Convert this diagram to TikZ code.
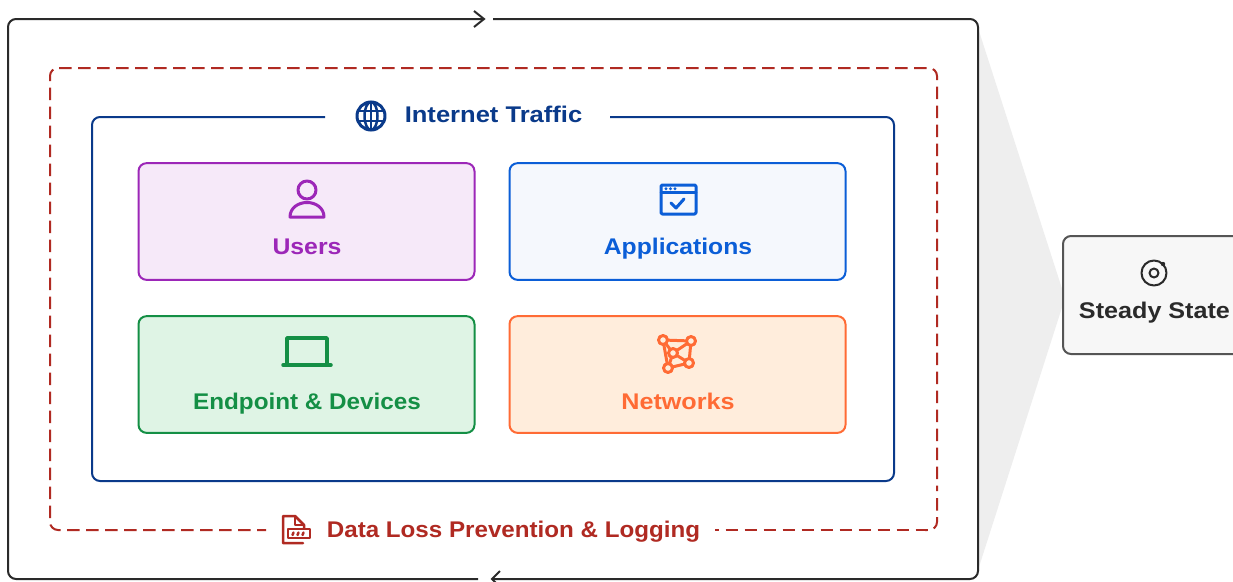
\documentclass[tikz,border=0pt]{standalone}
\usepackage{fontspec}
\setmainfont{Liberation Sans}
\newcommand{\wdt}[2]{{\addfontfeature{FakeStretch=#1}#2}}
\definecolor{cpurple}{HTML}{9C27B8}\definecolor{fpurple}{HTML}{F6E9F9}
\definecolor{cblue}{HTML}{0B5ED7}\definecolor{fblue}{HTML}{F5F8FD}
\definecolor{cgreen}{HTML}{148F45}\definecolor{fgreen}{HTML}{DFF4E5}
\definecolor{corange}{HTML}{FF6B35}\definecolor{forange}{HTML}{FFEDDC}
\definecolor{cnavy}{HTML}{0A3A8A}\definecolor{cred}{HTML}{B02A22}
\definecolor{cdark}{HTML}{2A2A2A}\definecolor{cedge}{HTML}{555555}
\definecolor{fsteady}{HTML}{F7F7F7}\definecolor{ffunnel}{HTML}{EEEEEE}
\tikzset{
 x=0.75pt,y=-0.75pt,
 px/.style={line width=#1*0.75pt},
 card/.style n args={2}{draw=#1,fill=#2,px=2,rounded corners=6pt,minimum width=252pt,minimum height=87.5pt,inner sep=0pt},
 cardlabel/.style={font=\fontsize{17}{20}\selectfont\bfseries,text=#1,inner sep=0pt,anchor=base},
 ico/.style={draw=#1,px=3,line join=round,line cap=round},
 frame/.style={draw=cdark,px=2,rounded corners=6pt},
 chev/.style={draw=cdark,px=2,line join=miter},
 redash/.style={draw=cred,px=2,rounded corners=6pt,dash pattern=on 9.375pt off 4.875pt,dash phase=#1},
}
\begin{document}
\begin{tikzpicture}
\clip (0,0) rectangle (1233,582);
\fill[white] (0,0) rectangle (1233,582);
% funnel
\fill[ffunnel] (978,28) -- (1065,298) -- (978,570) -- cycle;
% outer frame
\coordinate (ftl) at (493,19); \coordinate (ftr) at (484,19);
\coordinate (fbl) at (478,579); \coordinate (fbr) at (492,579);
\draw[frame] (ftl) -- (978,19) -- (978,579) -- (fbr);
\draw[frame] (fbl) -- (8,579) -- (8,19) -- (ftr);
\draw[chev] (474,11) -- (ftr) -- (474,27);
\draw[chev] (500,571) -- (fbr) -- (500,587);
% dashed frame
\coordinate (dl) at (266,530); \coordinate (dr) at (715,530);
\draw[redash=0pt] (59,68) -- (937,68) -- (937,491);
\draw[redash=0pt] (937,498) -- (937,530) -- (925,530);
\draw[redash=6.375pt] (dr) -- (929,530);
\draw[redash=10.5pt] (58,68) -- (50,68) -- (50,530) -- (dl);
% blue frame
\coordinate (bl) at (325,117); \coordinate (br) at (610,117);
\draw[draw=cnavy,px=2,rounded corners=6pt] (bl) -- (92,117) -- (92,481) -- (894,481) -- (894,117) -- (br);
% cards
\node[card={cpurple}{fpurple}] (users) at (306.5,221.5) {};
\node[card={cblue}{fblue}] (apps) at (677.5,221.5) {};
\node[card={cgreen}{fgreen}] (endpoint) at (306.5,374.5) {};
\node[card={corange}{forange}] (networks) at (677.5,374.5) {};
\node[cardlabel=cpurple] (usersl) at (307,254) {\wdt{1.095}{Users}};
\node[cardlabel=cblue] (appsl) at (678,254) {\wdt{1.09}{Applications}};
\node[cardlabel=cgreen] (endpointl) at (307,409) {\wdt{1.07}{Endpoint \& Devices}};
\node[cardlabel=corange] (networksl) at (678,409) {\wdt{1.11}{Networks}};
\node[cardlabel=cnavy] (internet) at (493.5,122) {\wdt{1.127}{Internet Traffic}};
\node[cardlabel=cred] (dlp) at (513.5,537) {\wdt{1.066}{Data Loss Prevention \& Logging}};
% steady
\node[draw=cedge,fill=fsteady,px=2,rounded corners=6pt,minimum width=150pt,minimum height=88.5pt,inner sep=0pt,anchor=north west] (steady) at (1062,235) {};
\node[cardlabel=cdark] (steadyl) at (1154.5,318) {\wdt{1.11}{Steady State}};
% user icon
\draw[ico=cpurple] (307,190) circle (9);
\draw[ico=cpurple] (290,217) .. controls (290,208) and (298,202.5) .. (307,202.5) .. controls (316,202.5) and (324,208) .. (324,217) -- cycle;
% app icon
\draw[ico=cblue,rounded corners=1pt] (661,185) rectangle (696,214);
\draw[ico=cblue,px=2.5] (661,192.5) -- (696,192.5);
\foreach \x in {666,670.5,675}\fill[cblue] (\x,188.8) circle (1.6);
\draw[ico=cblue] (671,203) -- (676,208) -- (684,199);
% laptop
\draw[ico=cgreen,px=3.5,line cap=butt] (287,364) -- (287,338) -- (327,338) -- (327,364);
\draw[ico=cgreen,px=3.5] (283,365) -- (331,365);
% network
\draw[ico=corange] (663,340) -- (691,341) -- (689,363) -- (668,368) -- cycle;
\draw[ico=corange] (663,340) -- (673,353) -- (691,341);
\draw[ico=corange] (673,353) -- (689,363);
\draw[ico=corange] (673,353) -- (668,368);
\foreach \x/\y in {663/340,691/341,673/353,689/363,668/368}\draw[ico=corange,fill=forange] (\x,\y) circle (4.5);
% globe
\draw[ico=cnavy] (371,116) circle (14);
\draw[ico=cnavy,px=2.5] (371,116) ellipse (6.5 and 14);
\draw[ico=cnavy,px=2.5] (371,102) -- (371,130);
\draw[ico=cnavy,px=2.5] (358,111) -- (384,111);
\draw[ico=cnavy,px=2.5] (358,121) -- (384,121);
% document
\draw[ico=cred,px=2.5] (304,529) -- (304,525) -- (295,516) -- (283,516) -- (283,543) -- (303,543);
\draw[ico=cred,px=2.5] (295,516) -- (295,525) -- (304,525);
\draw[ico=cred,px=2.5,fill=white] (288,529) rectangle (310,538);
\foreach \x in {292.5,297.5,302.5}\draw[ico=cred,px=2.5] (\x+1,532.5) -- (\x,535);
% steady icon
\draw[ico=cdark,px=2] (1154,273) circle (12.5);
\draw[ico=cdark,px=2] (1154,273) circle (4.5);
\fill[cdark] (1163,264) circle (2.2);
\end{tikzpicture}
\end{document}
